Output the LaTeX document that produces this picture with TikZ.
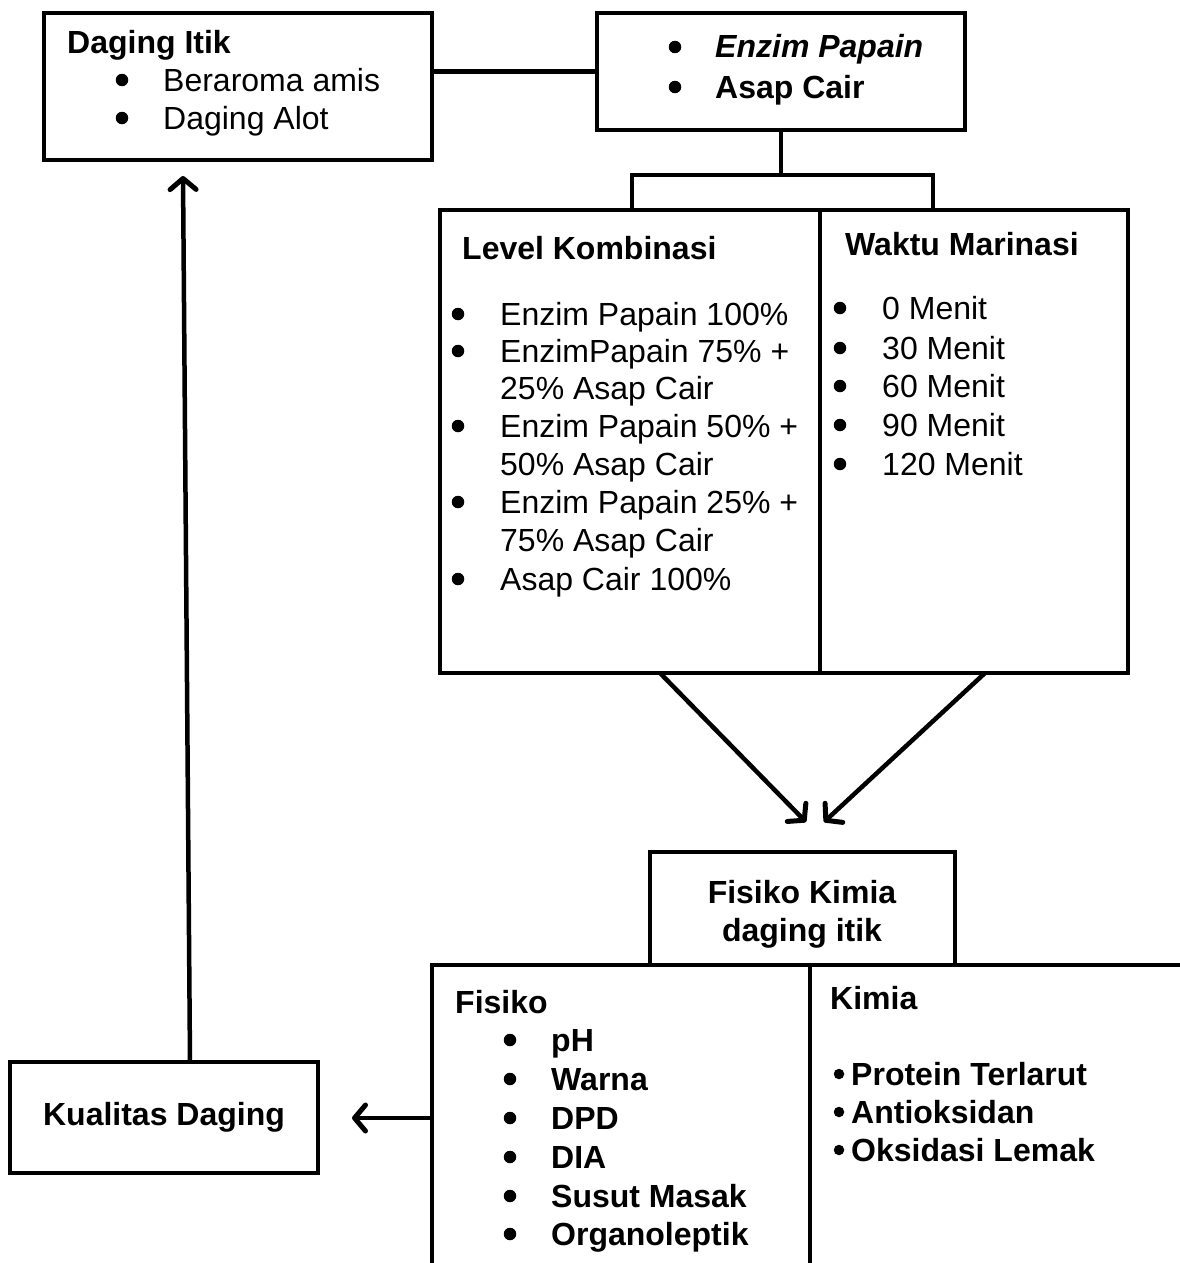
\documentclass[tikz,border=0pt]{standalone}
\usepackage{fontspec}
\setmainfont{Liberation Sans}
\usetikzlibrary{arrows.meta}
\tikzset{
  box/.style={draw, line width=4.5pt, inner sep=0pt, outer sep=0pt},
  area/.style={inner sep=0pt, outer sep=0pt},
  arr/.style={line width=4.5pt, -{Straight Barb[length=11pt,width=26pt,line width=5pt,line cap=round,line join=round]}},
  ln/.style={line width=4.5pt},
  tx/.style={anchor=base west, inner sep=0pt, font=\fontsize{32}{38}\selectfont},
  bx/.style={anchor=base west, inner sep=0pt, font=\fontsize{32}{38}\selectfont\bfseries},
  bu/.style={circle, fill, inner sep=0pt, minimum size=12.5pt, yshift=11pt},
  bus/.style={circle, fill, inner sep=0pt, minimum size=10.5pt, yshift=11pt},
}
\begin{document}
\begin{tikzpicture}[x=1pt,y=-1pt]
\useasboundingbox (0,0) rectangle (1179,1263);
% boxes
\node[box, minimum width=388, minimum height=147] (itik) at (238,86.5) {};
\node[box, minimum width=368, minimum height=117] (enzim) at (781,71.5) {};
\node[box, minimum width=380, minimum height=463] (lk) at (630,441.5) {};
\node[box, minimum width=308, minimum height=463] (wm) at (974,441.5) {};
\node[box, minimum width=305, minimum height=113] (fk) at (802.5,908.5) {};
\node[area, minimum width=378, minimum height=310] (fis) at (621,1120) {};
\node[area, minimum width=380, minimum height=310] (kim) at (1000,1120) {};
\node[box, minimum width=308, minimum height=111, font=\fontsize{32}{38}\selectfont\bfseries] (kual) at (164,1117.5) {Kualitas Daging};
% bottom open box
\draw[ln] (fis.south west) -- (fis.north west) -- (kim.north east);
\draw[ln] (kim.north west) -- (kim.south west);
% connectors
\draw[ln] (enzim.west) -- (enzim.west -| itik.east);
\coordinate (bl) at (632,175);
\coordinate (brr) at (933,175);
\draw[ln] (enzim.south) -- (enzim.south |- bl);
\draw[ln] (bl |- lk.north) -- (bl) -- (brr) -- (brr |- lk.north);
\coordinate (t1) at (806,822);
\coordinate (t2) at (824,822);
\draw[arr] ([xshift=30]lk.south) -- (t1);
\draw[arr] ([xshift=11]wm.south) -- (t2);
\coordinate (t3) at (352,1118);
\draw[arr] (fis.west |- t3) -- (t3);
\coordinate (ua) at (183,176);
\draw[arr] ([xshift=26]kual.north) -- (ua);
% texts: Daging Itik
\node[bx] (t-itik) at (67,53) {Daging Itik};
\node[bu] (b-it1) at (122,91) {};
\node[tx] (t-it1) at (163,91) {Beraroma amis};
\node[bu] (b-it2) at (122,129) {};
\node[tx] (t-it2) at (163,129) {Daging Alot};
% Enzim
\node[bu] (b-en1) at (675,58) {};
\node[bx, font=\fontsize{32}{38}\selectfont\bfseries\itshape] (t-en1) at (715,58) {Enzim Papain};
\node[bu] (b-en2) at (675,98) {};
\node[bx] (t-en2) at (715,98) {Asap Cair};
% Level Kombinasi
\node[bx] (t-lk) at (462,259) {Level Kombinasi};
\node[bu] (b-lk1) at (458,325) {};
\node[tx] (t-lk1) at (500,325) {Enzim Papain 100\%};
\node[bu] (b-lk2) at (458,362) {};
\node[tx] (t-lk2) at (500,362) {EnzimPapain 75\% +};
\node[tx] (t-lk2b) at (500,399) {25\% Asap Cair};
\node[bu] (b-lk3) at (458,437) {};
\node[tx] (t-lk3) at (500,437) {Enzim Papain 50\% +};
\node[tx] (t-lk3b) at (500,475) {50\% Asap Cair};
\node[bu] (b-lk4) at (458,513) {};
\node[tx] (t-lk4) at (500,513) {Enzim Papain 25\% +};
\node[tx] (t-lk4b) at (500,551) {75\% Asap Cair};
\node[bu] (b-lk5) at (458,590) {};
\node[tx] (t-lk5) at (500,590) {Asap Cair 100\%};
% Waktu Marinasi
\node[bx] (t-wm) at (845,255) {Waktu Marinasi};
\node[bu] (b-wm1) at (840,319) {};
\node[tx] (t-wm1) at (882,319) {0 Menit};
\node[bu] (b-wm2) at (840,359) {};
\node[tx] (t-wm2) at (882,359) {30 Menit};
\node[bu] (b-wm3) at (840,397) {};
\node[tx] (t-wm3) at (882,397) {60 Menit};
\node[bu] (b-wm4) at (840,436) {};
\node[tx] (t-wm4) at (882,436) {90 Menit};
\node[bu] (b-wm5) at (840,475) {};
\node[tx] (t-wm5) at (882,475) {120 Menit};
% Fisiko Kimia
\node[anchor=base, inner sep=0pt, font=\fontsize{32}{38}\selectfont\bfseries] (t-fk1) at (802,903) {Fisiko Kimia};
\node[anchor=base, inner sep=0pt, font=\fontsize{32}{38}\selectfont\bfseries] (t-fk2) at (802,941) {daging itik};
% Fisiko
\node[bx] (t-fis) at (455,1013) {Fisiko};
\foreach \y/\t [count=\i] in {1051/pH,1090/Warna,1129/DPD,1168/DIA,1207/Susut Masak,1245/Organoleptik}{
  \node[bu] (b-fis\i) at (510,\y) {};
  \node[bx] (t-fis\i) at (551,\y) {\t};
}
% Kimia
\node[bx] (t-kim) at (830,1009) {Kimia};
\foreach \y/\t [count=\i] in {1085/Protein Terlarut,1123/Antioksidan,1161/Oksidasi Lemak}{
  \node[bus] (b-kim\i) at (839,\y) {};
  \node[bx] (t-kim\i) at (851,\y) {\t};
}
\end{tikzpicture}
\end{document}
